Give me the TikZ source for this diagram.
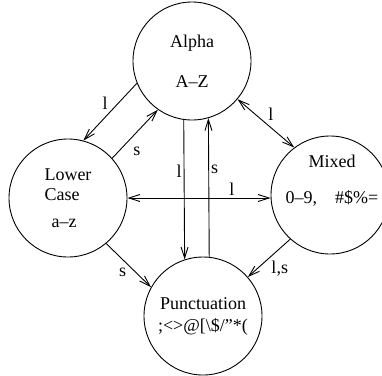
\documentclass[tikz,border=0pt]{standalone}
\usepackage{fontspec}
\setmainfont{Liberation Serif}
\usetikzlibrary{arrows.meta, calc}

\begin{document}
\begin{tikzpicture}[
    x=1pt, y=-1pt,
    >={Straight Barb[length=11pt,width=7pt]},
    font=\fontsize{18}{20}\selectfont,
    % character modes
    state/.style={
        draw,
        circle,
        line width=0.9pt,
        minimum size=118pt,
        inner sep=0pt,
        align=center
    },
    % latch / shift transitions
    trans/.style={->, line width=0.9pt},
    both/.style={<->, line width=0.9pt},
    lbl/.style={inner sep=2pt}
]
    \useasboundingbox (0,0) rectangle (382,375);

    % --- modes ---
    \node[state] (alpha) at (192,61) {Alpha\\[20pt]A--Z};
    \node[state, align=left] (lower) at (68,198) {Lower\\Case\\[7pt]\hspace*{7pt}a--z};
    \node[state] (mixed) at (330,195) {};
    \node[align=center] (mixedTxt) at (332,181) {Mixed\\[16pt]0--9,\quad\#\$\%=};
    \node[state] (punct) at (203,316) {Punctuation\\[2pt];<>@[\textbackslash\$/\char"22*(};

    % --- transitions ---
    \draw[trans] (alpha.202) -- (lower.75) node[lbl, midway, above left] (lAL) {l};
    \draw[trans] (lower.42) -- (alpha.235) node[lbl, pos=0.15, right=12pt] (sLA) {s};
    \draw[both] (alpha.320) -- (mixed.127) node[lbl, midway, above right] (lAM) {l};
    \draw[trans] (alpha.262) -- (punct.108) node[lbl, pos=0.37, left] (lAP) {l};
    \draw[trans] (punct.84) -- (alpha.286) node[lbl, pos=0.63, right] (sPA) {s};
    \draw[both] (lower.east) -- (lower.east -| mixed.west) node[lbl, pos=0.73, above] (lLM) {l};
    \draw[trans] (lower.310) -- (punct.151) node[lbl, midway, below left] (sLP) {s};
    \draw[trans] (mixed.228) -- (punct.41) node[lbl, midway, below right] (lsMP) {l,s};

\end{tikzpicture}
\end{document}
